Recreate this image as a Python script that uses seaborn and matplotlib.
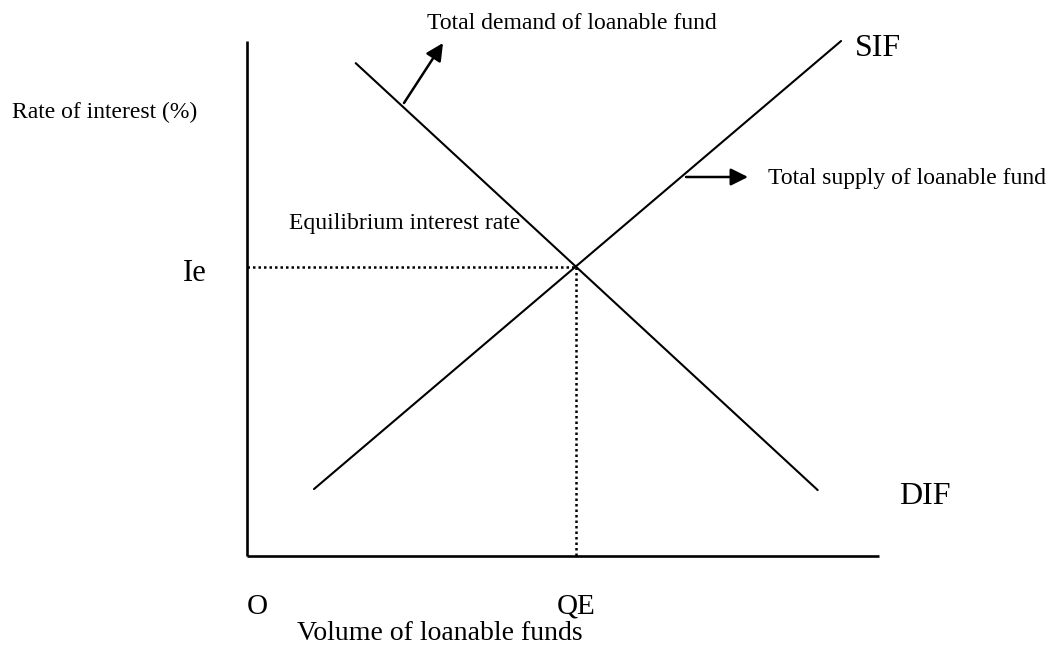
import numpy as np
import pandas as pd
import seaborn as sns
import matplotlib.pyplot as plt

# curve end points (quantity, interest rate)
supply_q = [10.6, 94.0]
supply_r = [13.0, 100.0]
demand_q = [17.2, 90.3]
demand_r = [95.7, 12.8]

# equilibrium
QE = 52.0
IE = 56.2

# axis extents
axis_q_max = 100.0
axis_r_max = 100.0

# pixel -> data scale for the full-figure axes
PX_X = 6.32
PX_Y = 5.15
X0, Y0 = 247, 556


def px(x, y):
    '''convert reference pixel position into data coordinates'''
    return (x - X0) / PX_X, (Y0 - y) / PX_Y


sns.set_theme(style='white')
plt.rcParams['font.family'] = ['Liberation Serif', 'DejaVu Serif']
plt.rcParams['text.color'] = 'black'

fig = plt.figure(figsize=(10.62, 6.54), dpi=100)
ax = fig.add_axes([0, 0, 1, 1])
ax.set_xlim((0 - X0) / PX_X, (1062 - X0) / PX_X)
ax.set_ylim((Y0 - 654) / PX_Y, Y0 / PX_Y)
ax.axis('off')

# axes of the diagram
ax.plot([0, 0], [0, axis_r_max], color='black', lw=1.9, solid_capstyle='butt')
ax.plot([0, axis_q_max], [0, 0], color='black', lw=1.9, solid_capstyle='butt')

# supply and demand curves
curves = pd.DataFrame({
    'q': supply_q + demand_q,
    'r': supply_r + demand_r,
    'curve': ['SIF'] * 2 + ['DIF'] * 2,
})
sns.lineplot(data=curves, x='q', y='r', units='curve', estimator=None,
             color='black', linewidth=1.5, ax=ax, sort=False, legend=False)

# dotted guide lines to the equilibrium
ax.plot([0, QE], [IE, IE], color='black', lw=1.8, linestyle=(0, (1, 1.2)))
ax.plot([QE, QE], [IE, 0], color='black', lw=1.8, linestyle=(0, (1, 1.2)))

# arrows
ap = dict(arrowstyle='-|>', color='black', lw=1.8, mutation_scale=26, shrinkA=0, shrinkB=0)
ax.annotate('', xy=px(443, 43), xytext=px(404, 103), arrowprops=ap)
ax.annotate('', xy=px(748, 177), xytext=px(686, 177), arrowprops=ap)

# labels
small = 17
ax.text(*px(427, 23), 'Total demand of loanable fund', fontsize=small, va='center', ha='left')
ax.text(*px(768, 178), 'Total supply of loanable fund', fontsize=small, va='center', ha='left')
ax.text(*px(289, 223), 'Equilibrium interest rate', fontsize=small, va='center', ha='left')
ax.text(*px(12, 112), 'Rate of interest (%)', fontsize=small, va='center', ha='left')

ax.text(*px(855, 48), 'SIF', fontsize=23, va='center', ha='left')
ax.text(*px(899, 497), 'DIF', fontsize=23, va='center', ha='left')
ax.text(*px(183, 273), 'Ie', fontsize=22, va='center', ha='left')
ax.text(*px(247, 607), 'O', fontsize=21, va='center', ha='left')
ax.text(*px(557, 607), 'QE', fontsize=21, va='center', ha='left')
ax.text(*px(297, 633), 'Volume of loanable funds', fontsize=20, va='center', ha='left')

fig.savefig('out.png', dpi=100, facecolor='white')
